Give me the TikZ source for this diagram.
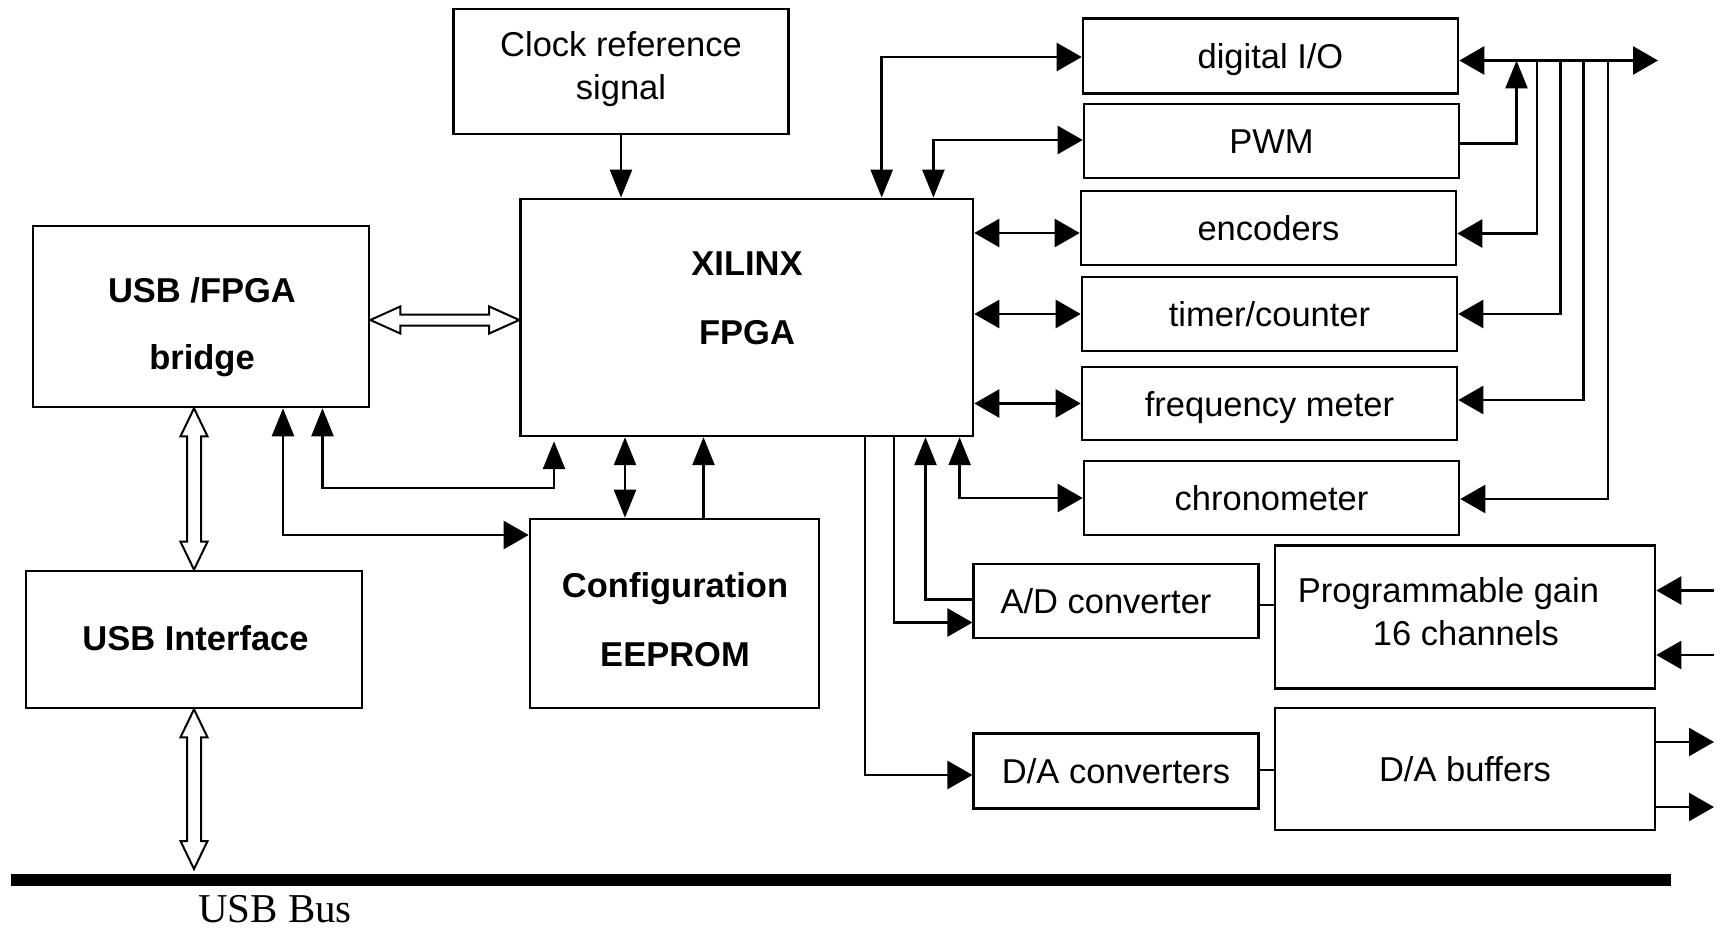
\documentclass[tikz,border=0pt]{standalone}
\usepackage{fontspec}
\setmainfont{Liberation Sans}
\newfontfamily\busfont{Liberation Serif}
\usetikzlibrary{arrows.meta,calc}
\tikzset{
  hT/.tip={Triangle[length=25pt,width=28pt]},
  vT/.tip={Triangle[length=28pt,width=22pt]},
  box/.style={draw, line width=2.6pt, rectangle, inner sep=0pt,
    font=\fontsize{34.5}{40}\selectfont, text height=25pt, text depth=0pt},
  lbl/.style={inner sep=0pt, font=\fontsize{34.5}{40}\selectfont, text height=25pt, text depth=0pt},
  blbl/.style={inner sep=0pt, font=\fontsize{34.5}{40}\selectfont\bfseries, text height=25pt, text depth=0pt},
  wire/.style={line width=2.6pt},
  hollow/.style={line width=2pt, fill=white, line join=miter},
}
\newcommand{\hollowH}[2]{%
  \draw[hollow] let \p1=(#1), \p2=(#2) in
  (\x1,\y1) -- (\x1+30pt,\y1+13.5pt) -- (\x1+30pt,\y1+5.5pt) -- (\x2-30pt,\y1+5.5pt)
  -- (\x2-30pt,\y1+13.5pt) -- (\x2,\y1) -- (\x2-30pt,\y1-13.5pt) -- (\x2-30pt,\y1-5.5pt)
  -- (\x1+30pt,\y1-5.5pt) -- (\x1+30pt,\y1-13.5pt) -- cycle;}
\newcommand{\hollowV}[2]{%
  \draw[hollow] let \p1=(#1), \p2=(#2) in
  (\x1,\y1) -- (\x1+13.5pt,\y1-28pt) -- (\x1+7pt,\y1-28pt) -- (\x1+7pt,\y2+28pt)
  -- (\x1+13.5pt,\y2+28pt) -- (\x1,\y2) -- (\x1-13.5pt,\y2+28pt) -- (\x1-7pt,\y2+28pt)
  -- (\x1-7pt,\y1-28pt) -- (\x1-13.5pt,\y1-28pt) -- cycle;}
\begin{document}
\begin{tikzpicture}[x=1pt,y=-1pt]
\useasboundingbox (0,0) rectangle (1722,928);

% boxes
\node[box, minimum width=335pt, minimum height=125pt] (clock) at (621,71.4) {};
\node[lbl] (clk1) at (621,44) {Clock reference};
\node[lbl] (clk2) at (621,87) {signal};

\node[box, minimum width=452.5pt, minimum height=237pt] (fpga) at (746.75,317.4) {};
\node[blbl] (fp1) at (747,263) {XILINX};
\node[blbl] (fp2) at (747,332) {FPGA};

\node[box, minimum width=336pt, minimum height=181pt] (bridge) at (201,316.5) {};
\node[blbl] (br1) at (202,290) {USB /FPGA};
\node[blbl] (br2) at (202,357) {bridge};

\node[box, minimum width=336pt, minimum height=137pt] (usbif) at (194,639.5) {};
\node[blbl] (ui1) at (195.5,638) {USB Interface};

\node[box, minimum width=289pt, minimum height=189pt] (eeprom) at (674.5,613.5) {};
\node[blbl] (ee1) at (675,584.5) {Configuration};
\node[blbl] (ee2) at (675,654) {EEPROM};

\node[box, minimum width=375pt, minimum height=74.6pt] (dio) at (1270.5,56) {digital I/O};
\node[box, minimum width=375pt, minimum height=74pt] (pwm) at (1271.5,141) {PWM};
\node[box, minimum width=375pt, minimum height=74pt] (enc) at (1268.5,228) {encoders};
\node[box, minimum width=375pt, minimum height=74pt] (timer) at (1269.5,314) {timer/counter};
\node[box, minimum width=375pt, minimum height=73pt] (freq) at (1269.5,403.5) {frequency meter};
\node[box, minimum width=375pt, minimum height=74pt] (chrono) at (1271.5,498) {chronometer};

\node[box, minimum width=284.5pt, minimum height=74pt] (adc) at (1116,601) {};
\node[lbl] (adct) at (1106,601) {A/D converter};
\node[box, minimum width=380pt, minimum height=142.6pt] (pga) at (1465,617) {};
\node[lbl] (pg1) at (1448.5,590) {Programmable gain};
\node[lbl] (pg2) at (1466,633) {16 channels};
\node[box, minimum width=284.5pt, minimum height=75.5pt] (dac) at (1116,771) {D/A converters};
\node[box, minimum width=380pt, minimum height=122pt] (dab) at (1465,769) {D/A buffers};

% bus
\coordinate (busL) at (11,880);
\coordinate (busR) at (1671,880);
\draw[line width=12pt] (busL) -- (busR);
\node[inner sep=0pt, font=\busfont\fontsize{41}{48}\selectfont, text height=27pt, text depth=0pt] (buslbl) at (275,909) {USB Bus};

% helper coordinates
\coordinate (hy) at (0,320);
\coordinate (bt) at (0,869);
\coordinate (kA) at (322.5,0);
\coordinate (kB) at (554,488);
\coordinate (kC) at (283,535);
\coordinate (kD) at (625,0);
\coordinate (kE) at (703.5,0);
\coordinate (kF) at (881.7,57);
\coordinate (kG) at (933.4,140);
\coordinate (kH) at (0,233);
\coordinate (kI) at (959.6,497);
\coordinate (kJ) at (925.5,599.5);
\coordinate (kK) at (894,622.5);
\coordinate (kL) at (865,775);
\coordinate (kM) at (0,605);
\coordinate (kN) at (0,770);
\coordinate (inA) at (1714,590.5);
\coordinate (inB) at (1714,655);
\coordinate (outA) at (1714,742);
\coordinate (outB) at (1714,807);
\coordinate (kP) at (0,60.5);
\coordinate (kQ) at (1658,60.5);
\coordinate (kR) at (1516.5,143.5);
\coordinate (t1) at (1537,60.5);
\coordinate (t2) at (1560.5,60.5);
\coordinate (t3) at (1583.5,60.5);
\coordinate (t4) at (1608,60.5);
\coordinate (e1) at (0,233.5);
\coordinate (e2) at (0,314);
\coordinate (e3) at (0,400);
\coordinate (e4) at (0,499);

% hollow arrows
\hollowH{bridge.east |- hy}{fpga.west |- hy}
\hollowV{usbif.north |- bridge.south}{usbif.north}
\hollowV{usbif.south}{usbif.south |- bt}

% connectors
\draw[wire,-vT] (clock.south) -- (clock.south |- fpga.north);
\draw[wire,vT-vT,shorten >=4pt] (bridge.south -| kA) |- (kB) -- (fpga.south -| kB);
\draw[wire,vT-hT] (bridge.south -| kC) |- (eeprom.west |- kC);
\draw[wire,vT-vT] (fpga.south -| kD) -- (eeprom.north -| kD);
\draw[wire,-vT] (eeprom.north -| kE) -- (fpga.south -| kE);
\draw[wire,hT-vT] (dio.west |- kF) -| (fpga.north -| kF);
\draw[wire,hT-vT] (pwm.west |- kG) -| (fpga.north -| kG);
\draw[wire,hT-hT] (fpga.east |- kH) -- (enc.west |- kH);
\draw[wire,hT-hT] (fpga.east |- timer.west) -- (timer.west);
\draw[wire,hT-hT] (fpga.east |- freq.west) -- (freq.west);
\draw[wire,hT-vT] (chrono.west) -| (fpga.south -| kI);
\draw[wire,-vT] (adc.west |- kJ) -| (fpga.south -| kJ);
\draw[wire,-hT] (fpga.south -| kK) |- (adc.west |- kK);
\draw[wire,-hT] (fpga.south -| kL) |- (dac.west |- kL);
\draw[wire] (adc.east |- kM) -- (pga.west |- kM);
\draw[wire] (dac.east |- kN) -- (dab.west |- kN);
\draw[wire,-hT] (inA) -- (pga.east |- inA);
\draw[wire,-hT] (inB) -- (pga.east |- inB);
\draw[wire,-hT] (dab.east |- outA) -- (outA);
\draw[wire,-hT] (dab.east |- outB) -- (outB);
\draw[wire,hT-hT] (dio.east |- kP) -- (kQ);
\draw[wire,-vT] (pwm.east |- kR) -| (kR |- kP);
\draw[wire,-hT] (t1) |- (enc.east |- e1);
\draw[wire,-hT] (t2) |- (timer.east |- e2);
\draw[wire,-hT] (t3) |- (freq.east |- e3);
\draw[wire,-hT] (t4) |- (chrono.east |- e4);
\end{tikzpicture}
\end{document}
